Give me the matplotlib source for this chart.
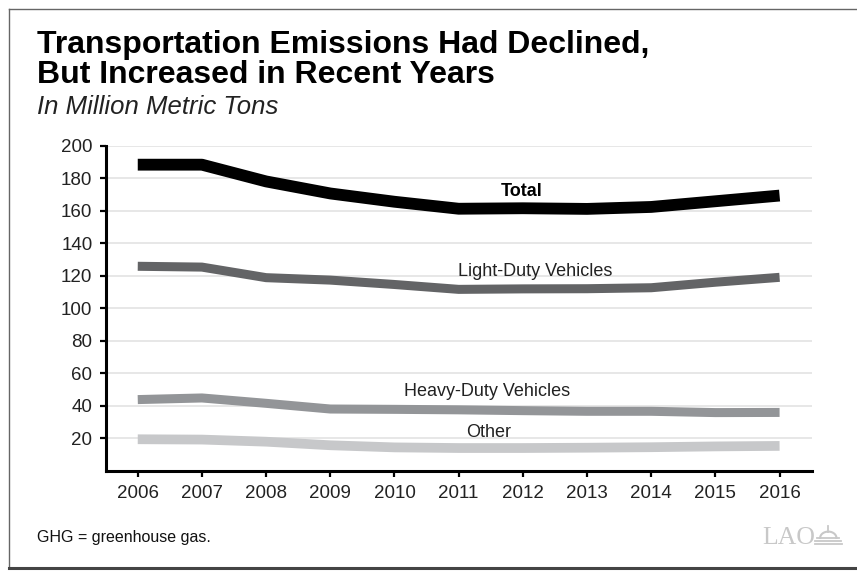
import numpy as np
import matplotlib
matplotlib.use('Agg')
import matplotlib.pyplot as plt
from matplotlib.lines import Line2D

plt.rcParams['font.family'] = ['Liberation Sans', 'DejaVu Sans']

# Data (million metric tons)
years = [2006, 2007, 2008, 2009, 2010, 2011, 2012, 2013, 2014, 2015, 2016]
total = [188.3, 188.3, 178.0, 170.6, 165.5, 161.2, 161.5, 161.1, 162.3, 165.8, 169.3]
light_duty = [125.8, 125.3, 118.8, 117.3, 114.6, 111.6, 111.9, 112.0, 112.6, 116.0, 119.0]
heavy_duty = [43.8, 44.8, 41.5, 38.0, 37.8, 37.5, 37.0, 36.6, 36.6, 35.8, 35.9]
other = [19.4, 19.2, 17.9, 15.7, 14.4, 14.0, 14.0, 14.2, 14.5, 15.0, 15.3]

y_ticks = [20, 40, 60, 80, 100, 120, 140, 160, 180, 200]

series = [
    # name, values, color, width, label pos, bold
    ('Total', total, '#000000', 8.5, (2011.98, 171.6), True),
    ('Light-Duty Vehicles', light_duty, '#636466', 6.5, (2012.2, 122.4), False),
    ('Heavy-Duty Vehicles', heavy_duty, '#939598', 6.5, (2011.45, 48.6), False),
    ('Other', other, '#c7c8ca', 7.0, (2011.46, 23.4), False),
]

fig = plt.figure(figsize=(8.57, 5.71), dpi=100)
ax = fig.add_axes([0.1233, 0.1755, 0.8238, 0.5694])

for y in y_ticks:
    ax.axhline(y, color='#e3e3e3', lw=1.2, zorder=0)

for name, vals, color, lw, pos, bold in series:
    ax.plot(years, vals, color=color, lw=lw, solid_capstyle='butt',
            solid_joinstyle='round', zorder=3)
    ax.text(pos[0], pos[1], name, ha='center', va='center', fontsize=13,
            color='#000000' if bold else '#222222',
            fontweight='bold' if bold else 'normal', zorder=4)

ax.set_xlim(2005.5, 2016.5)
ax.set_ylim(0, 200)
ax.set_xticks(years)
ax.set_yticks(y_ticks)
ax.tick_params(axis='both', labelsize=13.5, length=4.5, width=1.6,
               color='#000000', labelcolor='#222222', direction='out')
ax.tick_params(axis='y', pad=5)
ax.tick_params(axis='x', pad=6)
for side in ['top', 'right']:
    ax.spines[side].set_visible(False)
for side in ['left', 'bottom']:
    ax.spines[side].set_linewidth(2.2)
    ax.spines[side].set_color('#000000')

# titles
fig.text(0.0432, 0.9072, 'Transportation Emissions Had Declined,', fontsize=23,
         fontweight='bold', va='baseline', ha='left')
fig.text(0.0432, 0.8546, 'But Increased in Recent Years', fontsize=23,
         fontweight='bold', va='baseline', ha='left')
fig.text(0.0432, 0.8003, 'In Million Metric Tons', fontsize=18.5, style='italic',
         color='#222222', va='baseline', ha='left')

# footnote + logo
fig.text(0.0432, 0.0513, 'GHG = greenhouse gas.', fontsize=11.5, color='#111111',
         va='baseline', ha='left')
fig.text(0.889, 0.0473, 'LAO', fontsize=18.5, family='Liberation Serif',
         color='#c8c8c8', va='baseline', ha='left')
# little capitol dome next to the logo
dome = np.linspace(0, np.pi, 20)
fig.add_artist(Line2D(0.9665 + 0.0095 * np.cos(dome), 0.058 + 0.011 * np.sin(dome),
                      transform=fig.transFigure, color='#c8c8c8', lw=1.5))
for yy, hw in [(0.058, 0.013), (0.052, 0.015), (0.047, 0.016)]:
    fig.add_artist(Line2D([0.9665 - hw, 0.9665 + hw], [yy, yy], transform=fig.transFigure,
                          color='#c8c8c8', lw=1.3))
fig.add_artist(Line2D([0.9665, 0.9665], [0.069, 0.079], transform=fig.transFigure,
                      color='#c8c8c8', lw=1.3))

# frame around the figure
fig.add_artist(Line2D([0.0105, 0.0105], [0.005, 0.984], transform=fig.transFigure,
                      color='#666666', lw=1.0))
fig.add_artist(Line2D([0.0105, 1.0], [0.984, 0.984], transform=fig.transFigure,
                      color='#666666', lw=1.0))
fig.add_artist(Line2D([0.0105, 1.0], [0.005, 0.005], transform=fig.transFigure,
                      color='#444444', lw=2.2))

fig.savefig('out.png', dpi=100)
